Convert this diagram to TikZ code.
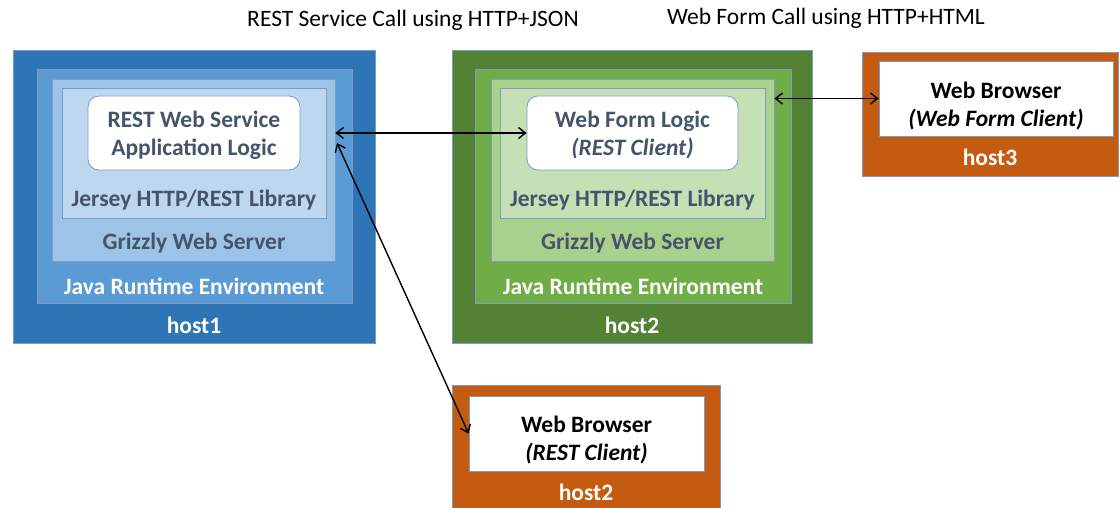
\documentclass[tikz,border=0pt]{standalone}
\usepackage{fontspec}
\setmainfont{Carlito}
\usetikzlibrary{positioning}
\usetikzlibrary{calc}
\usetikzlibrary{arrows.meta}
\definecolor{blueA}{HTML}{2E75B6}
\definecolor{blueB}{HTML}{5B9BD5}
\definecolor{blueC}{HTML}{9DC3E6}
\definecolor{blueD}{HTML}{BDD7EE}
\definecolor{greenA}{HTML}{548235}
\definecolor{greenB}{HTML}{70AD47}
\definecolor{greenC}{HTML}{A9D18E}
\definecolor{greenD}{HTML}{C5E0B4}
\definecolor{hostorange}{HTML}{C55A11}
\definecolor{slate}{HTML}{44546A}
\definecolor{edgec}{HTML}{7A9CC6}
\tikzset{layer/.style={draw=edgec, line width=0.8pt, inner sep=0pt}}
\tikzset{logicbox/.style={layer, fill=white, rounded corners=11pt, align=center}}
\tikzset{boxtxt/.style={font=\fontsize{23.5}{28}\selectfont\bfseries, text=slate, align=center}}
\tikzset{hosttxt/.style={font=\fontsize{23.5}{28}\selectfont\bfseries, text=white}}
\tikzset{browsertxt/.style={font=\fontsize{23.5}{28}\selectfont\bfseries, text=black, align=center}}
\tikzset{titletxt/.style={font=\fontsize{23.5}{28}\selectfont, text=black}}
\tikzset{call/.style={<->, line width=1.4pt, >={Straight Barb[length=7pt,width=11pt]}}}

\begin{document}
\begin{tikzpicture}[x=1pt, y=-1pt]

\useasboundingbox[fill=white] (0,0) rectangle (1120,508);

\node[titletxt] (title1) at (413,20) {REST Service Call using HTTP+JSON};
\node[titletxt] (title2) at (826,18) {Web Form Call using HTTP+HTML};

% host1 : the REST service
\node[layer, fill=blueA, minimum width=362pt, minimum height=293pt] (host1) at (194,196.5) {};
\node[layer, fill=blueB, minimum width=315pt, minimum height=234pt] (jre1) at (194.5,186) {};
\node[layer, fill=blueC, minimum width=283pt, minimum height=182pt] (griz1) at (193.5,170) {};
\node[layer, fill=blueD, minimum width=264pt, minimum height=130pt] (jer1) at (194,153) {};
\node[logicbox, minimum width=212pt, minimum height=74pt] (app1) at (194,133) {};
\node[boxtxt] (app1txt) at (194,135) {REST Web Service\\Application Logic};
\node[boxtxt] (jer1txt) at (194,200) {Jersey HTTP/REST Library};
\node[boxtxt] (griz1txt) at (194,243) {Grizzly Web Server};
\node[hosttxt] (jre1txt) at (194,286) {Java Runtime Environment};
\node[hosttxt] (host1txt) at (194,325) {host1};

% host2 : the web form server
\node[layer, fill=greenA, minimum width=360pt, minimum height=293pt] (host2) at (632,196.5) {};
\node[layer, fill=greenB, minimum width=316pt, minimum height=234pt] (jre2) at (633,186) {};
\node[layer, fill=greenC, minimum width=283pt, minimum height=182pt] (griz2) at (632.5,170) {};
\node[layer, fill=greenD, minimum width=265pt, minimum height=130pt] (jer2) at (632.5,153) {};
\node[logicbox, minimum width=211pt, minimum height=74pt] (app2) at (632.5,133) {};
\node[boxtxt] (app2txt) at (632.5,135) {Web Form Logic\\\itshape (REST Client)};
\node[boxtxt] (jer2txt) at (632.5,200) {Jersey HTTP/REST Library};
\node[boxtxt] (griz2txt) at (632.5,243) {Grizzly Web Server};
\node[hosttxt] (jre2txt) at (633,286) {Java Runtime Environment};
\node[hosttxt] (host2txt) at (632,325) {host2};

% host3 : browser for the web form
\node[layer, fill=hostorange, minimum width=256pt, minimum height=124pt] (host3) at (990,114) {};
\node[layer, fill=white, minimum width=234pt, minimum height=75pt] (browser3) at (996,98.5) {};
\node[browsertxt] (browser3txt) at (996,106.5) {Web Browser\\\itshape (Web Form Client)};
\node[hosttxt] (host3txt) at (990,157) {host3};

% second host2 : browser as REST client
\node[layer, fill=hostorange, minimum width=268pt, minimum height=126pt] (host4) at (586,448) {};
\node[layer, fill=white, minimum width=235pt, minimum height=75pt] (browser4) at (586.5,433.5) {};
\node[browsertxt] (browser4txt) at (586.5,440.5) {Web Browser\\\itshape (REST Client)};
\node[hosttxt] (host4txt) at (586,492) {host2};

\coordinate (restin) at (337,143);
\draw[call] (app2.west -| griz1.east) -- (app2.west);
\draw[call] (restin) -- (browser4.west);
\draw[call] (browser3.west -| griz2.east) -- (browser3.west);

\end{tikzpicture}
\end{document}
